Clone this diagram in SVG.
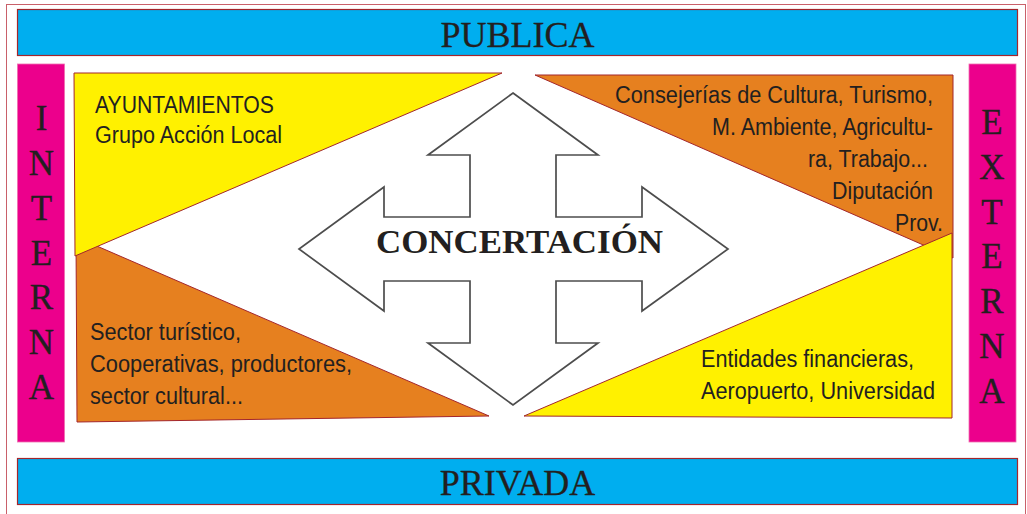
<svg xmlns="http://www.w3.org/2000/svg" width="1027" height="514" viewBox="0 0 1027 514">
<style>
.bar{fill:#00aeef;stroke:#a3262c;stroke-width:1.2}
.side{fill:#ec008c;stroke:#f06eb0;stroke-width:0.8}
.tri{stroke:#a3262c;stroke-width:1}
.yel{fill:#fff100}
.org{fill:#e6801f}
.ser{font-family:"Liberation Serif","Times New Roman",serif;fill:#231f20}
.big{font-size:36px;text-anchor:middle;stroke:#231f20;stroke-width:0.3}
.vert{font-size:35px;text-anchor:middle;stroke:#231f20;stroke-width:0.3}
.san{font-family:"Liberation Sans",Arial,sans-serif;font-size:23px;fill:#231f20}
.arrow{fill:#ffffff;stroke:#4d4d4d;stroke-width:1.7;stroke-linejoin:miter}
</style>
<rect x="0" y="0" width="1027" height="514" fill="#ffffff"/>
<rect x="6.5" y="4.5" width="1019" height="520" fill="none" stroke="#c9606a" stroke-width="1"/>

<g id="publica">
<rect class="bar" x="17.5" y="9.5" width="1000" height="46"/>
<text class="ser big" x="517.5" y="47">PUBLICA</text>
</g>
<g id="privada">
<rect class="bar" x="17.5" y="458.5" width="1000" height="46"/>
<text class="ser big" x="517.5" y="495">PRIVADA</text>
</g>

<g id="interna">
<rect class="side" x="17.5" y="64" width="47" height="378"/>
<text class="ser vert" x="41.5" y="130">I</text>
<text class="ser vert" x="41.5" y="175">N</text>
<text class="ser vert" x="41.5" y="220">T</text>
<text class="ser vert" x="41.5" y="265">E</text>
<text class="ser vert" x="41.5" y="309">R</text>
<text class="ser vert" x="41.5" y="354">N</text>
<text class="ser vert" x="41.5" y="399">A</text>
</g>
<g id="externa">
<rect class="side" x="969" y="64" width="47" height="378"/>
<text class="ser vert" x="992" y="134">E</text>
<text class="ser vert" x="992" y="179">X</text>
<text class="ser vert" x="992" y="224">T</text>
<text class="ser vert" x="992" y="268">E</text>
<text class="ser vert" x="992" y="313">R</text>
<text class="ser vert" x="992" y="358">N</text>
<text class="ser vert" x="992" y="403">A</text>
</g>

<g id="privada-interna">
<polygon class="tri org" points="76,237 77,422 489,416"/>
<text class="san" x="90" y="340" textLength="151" lengthAdjust="spacingAndGlyphs">Sector turístico,</text>
<text class="san" x="90" y="372" textLength="262" lengthAdjust="spacingAndGlyphs">Cooperativas, productores,</text>
<text class="san" x="90" y="404" textLength="153" lengthAdjust="spacingAndGlyphs">sector cultural...</text>
</g>
<g id="publica-interna">
<polygon class="tri yel" points="74,73 502,73 75,256"/>
<text class="san" x="95" y="113" textLength="179" lengthAdjust="spacingAndGlyphs">AYUNTAMIENTOS</text>
<text class="san" x="95" y="143" textLength="187" lengthAdjust="spacingAndGlyphs">Grupo Acción Local</text>
</g>
<g id="publica-externa">
<polygon class="tri org" points="535,75 953,75 953,258"/>
<text class="san" x="615" y="103" textLength="318" lengthAdjust="spacingAndGlyphs">Consejerías de Cultura, Turismo,</text>
<text class="san" x="712" y="135" textLength="221" lengthAdjust="spacingAndGlyphs">M. Ambiente, Agricultu-</text>
<text class="san" x="808" y="167" textLength="120" lengthAdjust="spacingAndGlyphs">ra, Trabajo...</text>
<text class="san" x="832" y="199" textLength="101" lengthAdjust="spacingAndGlyphs">Diputación</text>
<text class="san" x="895" y="231" textLength="48" lengthAdjust="spacingAndGlyphs">Prov.</text>
</g>
<g id="privada-externa">
<polygon class="tri yel" points="524,416 952,233 952,418"/>
<text class="san" x="701" y="367" textLength="213" lengthAdjust="spacingAndGlyphs">Entidades financieras,</text>
<text class="san" x="701" y="399" textLength="234" lengthAdjust="spacingAndGlyphs">Aeropuerto, Universidad</text>
</g>

<g id="concertacion">
<polygon class="arrow" points="513,93 598,155 556,155 556,217 642,217 642,187 728,249 642,311 642,281 556,281 556,343 598,343 513,405 428,343 470,343 470,281 384,281 384,311 299,249 384,187 384,217 470,217 470,155 428,155"/>
<text class="ser" x="376" y="253" font-size="34" font-weight="bold" textLength="287" lengthAdjust="spacingAndGlyphs">CONCERTACIÓN</text>
</g>
<g id="connectors"></g>
</svg>
